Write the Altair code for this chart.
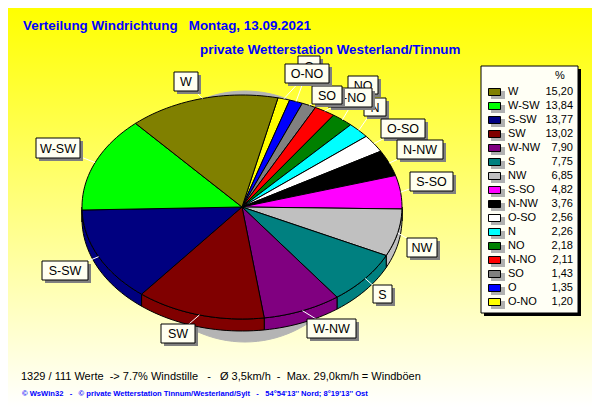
import math
import altair as alt
import pandas as pd

# Chart data, in legend order
LABELS = ["W", "W-SW", "S-SW", "SW", "W-NW", "S", "NW", "S-SO", "N-NW", "O-SO", "N", "NO", "N-NO", "SO", "O", "O-NO"]
VALUES = [15.20, 13.84, 13.77, 13.02, 7.90, 7.75, 6.85, 4.82, 3.76, 2.56, 2.26, 2.18, 2.11, 1.43, 1.35, 1.20]
VALUE_TEXT = ["15,20", "13,84", "13,77", "13,02", "7,90", "7,75", "6,85", "4,82", "3,76", "2,56", "2,26", "2,18", "2,11", "1,43", "1,35", "1,20"]
COLORS = ["#808000", "#00ff00", "#000080", "#800000", "#800080", "#008080", "#c0c0c0", "#ff00ff", "#000000", "#ffffff", "#00ffff", "#008000", "#ff0000", "#808080", "#0000ff", "#ffff00"]

# Layout (page pixels of the reference)
CX, CY, RX, RY, DEPTH, START = 242, 207, 160, 112, 12, 13.0
PAGE = 8
W, H = 584, 399
BOX = {  # label: left, right, top, bottom
    "O": (298, 320, 56, 76), "NO": (348, 378, 76, 94), "N": (364, 386, 98, 116),
    "N-NO": (328, 372, 88, 107), "SO": (312, 342, 86, 104), "O-NO": (285, 329, 64, 83),
    "W": (174, 198, 72, 91), "O-SO": (381, 425, 119, 138), "N-NW": (397, 443, 140, 159),
    "S-SO": (410, 453, 172, 191), "NW": (407, 437, 238, 257), "S": (373, 392, 285, 303),
    "W-NW": (307, 356, 319, 338), "SW": (161, 195, 324, 343), "S-SW": (42, 88, 261, 280),
    "W-SW": (36, 80, 138, 158),
}
LEG_X0, LEG_X1, LEG_Y0, LEG_Y1 = 481, 578, 66, 313
NB = "\u00a0"

xs = alt.Scale(domain=[PAGE, PAGE + W], range=[0, W])
ys = alt.Scale(domain=[PAGE, PAGE + H], range=[0, H])


def X(f="x"):
    return alt.X(f"{f}:Q", scale=xs, axis=None)


def Y(f="y"):
    return alt.Y(f"{f}:Q", scale=ys, axis=None)


def rim(deg, dy=0.0):
    a = math.radians(deg)
    return CX + RX * math.sin(a), CY - RY * math.cos(a) + dy


def poly(points, fill, stroke="black", sw=1.0):
    df = pd.DataFrame([{"i": i, "x": p[0], "y": p[1]} for i, p in enumerate(points)])
    return alt.Chart(df).mark_line(
        interpolate="linear-closed", fill=fill, stroke=stroke, strokeWidth=sw, clip=False
    ).encode(x=X(), y=Y(), order="i:Q")


def rect(x0, x1, y0, y1, fill, stroke=None):
    kw = {"fill": fill}
    if stroke:
        kw.update(stroke=stroke, strokeWidth=1)
    return alt.Chart(pd.DataFrame([{"x": x0, "x2": x1, "y": y0, "y2": y1}])).mark_rect(**kw).encode(
        x=X(), x2="x2:Q", y=Y(), y2="y2:Q"
    )


def text(rows, **kw):
    return alt.Chart(pd.DataFrame(rows)).mark_text(**kw).encode(x=X(), y=Y(), text="t:N")


layers = []

# Background gradient
bg = alt.LinearGradient(
    gradient="linear", x1=0, x2=0, y1=0, y2=1,
    stops=[alt.GradientStop(offset=0, color="#ffff00"), alt.GradientStop(offset=1, color="#ffffff")],
)
layers.append(rect(PAGE, PAGE + W, PAGE, PAGE + H, bg))

# Shadow behind the pie
layers.append(poly([(245 + 120 * math.sin(math.radians(t)), 216.5 - 125.5 * math.cos(math.radians(t))) for t in range(0, 360, 3)], "#b4b4b4", stroke="#b4b4b4"))

# Pie: slices run clockwise in reverse legend order
wedges = []
ang = START
for lab, v, c in list(zip(LABELS, VALUES, COLORS))[::-1]:
    span = v / sum(VALUES) * 360
    wedges.append((lab, ang, ang + span, c))
    ang += span


def arc(a0, a1, dy=0.0):
    n = max(2, int((a1 - a0) / 2) + 2)
    return [rim(a0 + (a1 - a0) * k / (n - 1), dy) for k in range(n)]


# Side faces
for lab, a0, a1, c in wedges:
    lo, hi = max(a0, 90), min(a1, 270)
    if hi > lo:
        layers.append(poly(arc(lo, hi) + arc(lo, hi, DEPTH)[::-1], c))
# Top faces
for lab, a0, a1, c in wedges:
    layers.append(poly([(CX, CY)] + arc(a0, a1), c))

# Leader lines
leaders = []
for lab, a0, a1, c in wedges:
    mid = (a0 + a1) / 2
    x0, y0 = rim(mid)
    b = BOX[lab]
    leaders.append({"k": lab, "x": x0, "y": y0, "x2": (b[0] + b[1]) / 2, "y2": (b[2] + b[3]) / 2})
layers.append(alt.Chart(pd.DataFrame(leaders)).mark_rule(color="white", strokeWidth=1).encode(x=X(), y=Y(), x2="x2:Q", y2="y2:Q"))

# Label boxes, in stacking order
for lab, b in BOX.items():
    layers.append(rect(b[0] + 3, b[1] + 3, b[2] + 3, b[3] + 3, "#808080"))
    layers.append(rect(b[0], b[1], b[2], b[3], "#fffff0", "black"))
    layers.append(text([{"x": (b[0] + b[1]) / 2, "y": (b[2] + b[3]) / 2 + 0.5, "t": lab}],
                       font="Liberation Sans", fontSize=12.5, color="black", baseline="middle", align="center"))

# Legend
layers.append(rect(LEG_X0 + 3, LEG_X1 + 3, LEG_Y0 + 3, LEG_Y1 + 3, "black"))
layers.append(rect(LEG_X0, LEG_X1, LEG_Y0, LEG_Y1, "#fffff5", "black"))
layers.append(text([{"x": 560, "y": 76, "t": "%"}], font="Liberation Sans", fontSize=11, color="black", align="center", baseline="middle"))
for i, (lab, vt, c) in enumerate(zip(LABELS, VALUE_TEXT, COLORS)):
    yc = 92 + 14 * i
    layers.append(rect(491, 505, yc - 1, yc + 7, "#b0b0b0"))
    layers.append(rect(488.5, 500.5, yc - 3.5, yc + 3.5, c, "black"))
layers.append(text([{"x": 508, "y": 92 + 14 * i, "t": l} for i, l in enumerate(LABELS)],
                   font="Liberation Sans", fontSize=11, color="black", align="left", baseline="middle"))
layers.append(text([{"x": 573, "y": 92 + 14 * i, "t": v} for i, v in enumerate(VALUE_TEXT)],
                   font="Liberation Sans", fontSize=11, color="black", align="right", baseline="middle"))

# Titles and footers
layers.append(text([{"x": 23, "y": 26, "t": f"Verteilung Windrichtung{NB*3}Montag, 13.09.2021"}],
                   font="Liberation Sans", fontSize=13.4, fontWeight="bold", color="#0000ff", align="left", baseline="middle"))
layers.append(text([{"x": 200, "y": 49.5, "t": "private Wetterstation Westerland/Tinnum"}],
                   font="Liberation Sans", fontSize=13.4, fontWeight="bold", color="#0000ff", align="left", baseline="middle"))
layers.append(text([{"x": 21, "y": 377, "t": f"1329 / 111 Werte{NB*2}-> 7.7% Windstille{NB*3}-{NB*3}Ø 3,5km/h{NB*2}-{NB*2}Max. 29,0km/h = Windböen"}],
                   font="Liberation Sans", fontSize=11, color="black", align="left", baseline="middle"))
layers.append(text([{"x": 22, "y": 394, "t": f"© WsWin32{NB*3}-{NB*3}© private Wetterstation Tinnum/Westerland/Sylt{NB*3}-{NB*3}54°54'13'' Nord; 8°19'13'' Ost"}],
                   font="Liberation Sans", fontSize=7.6, fontWeight="bold", color="#0000ff", align="left", baseline="middle"))

chart = alt.layer(*layers).properties(width=W, height=H, padding=0, autosize=alt.AutoSizeParams(type="none")).configure_view(stroke=None)
chart.save("out.html", embed_options={"renderer": "svg", "actions": False})
